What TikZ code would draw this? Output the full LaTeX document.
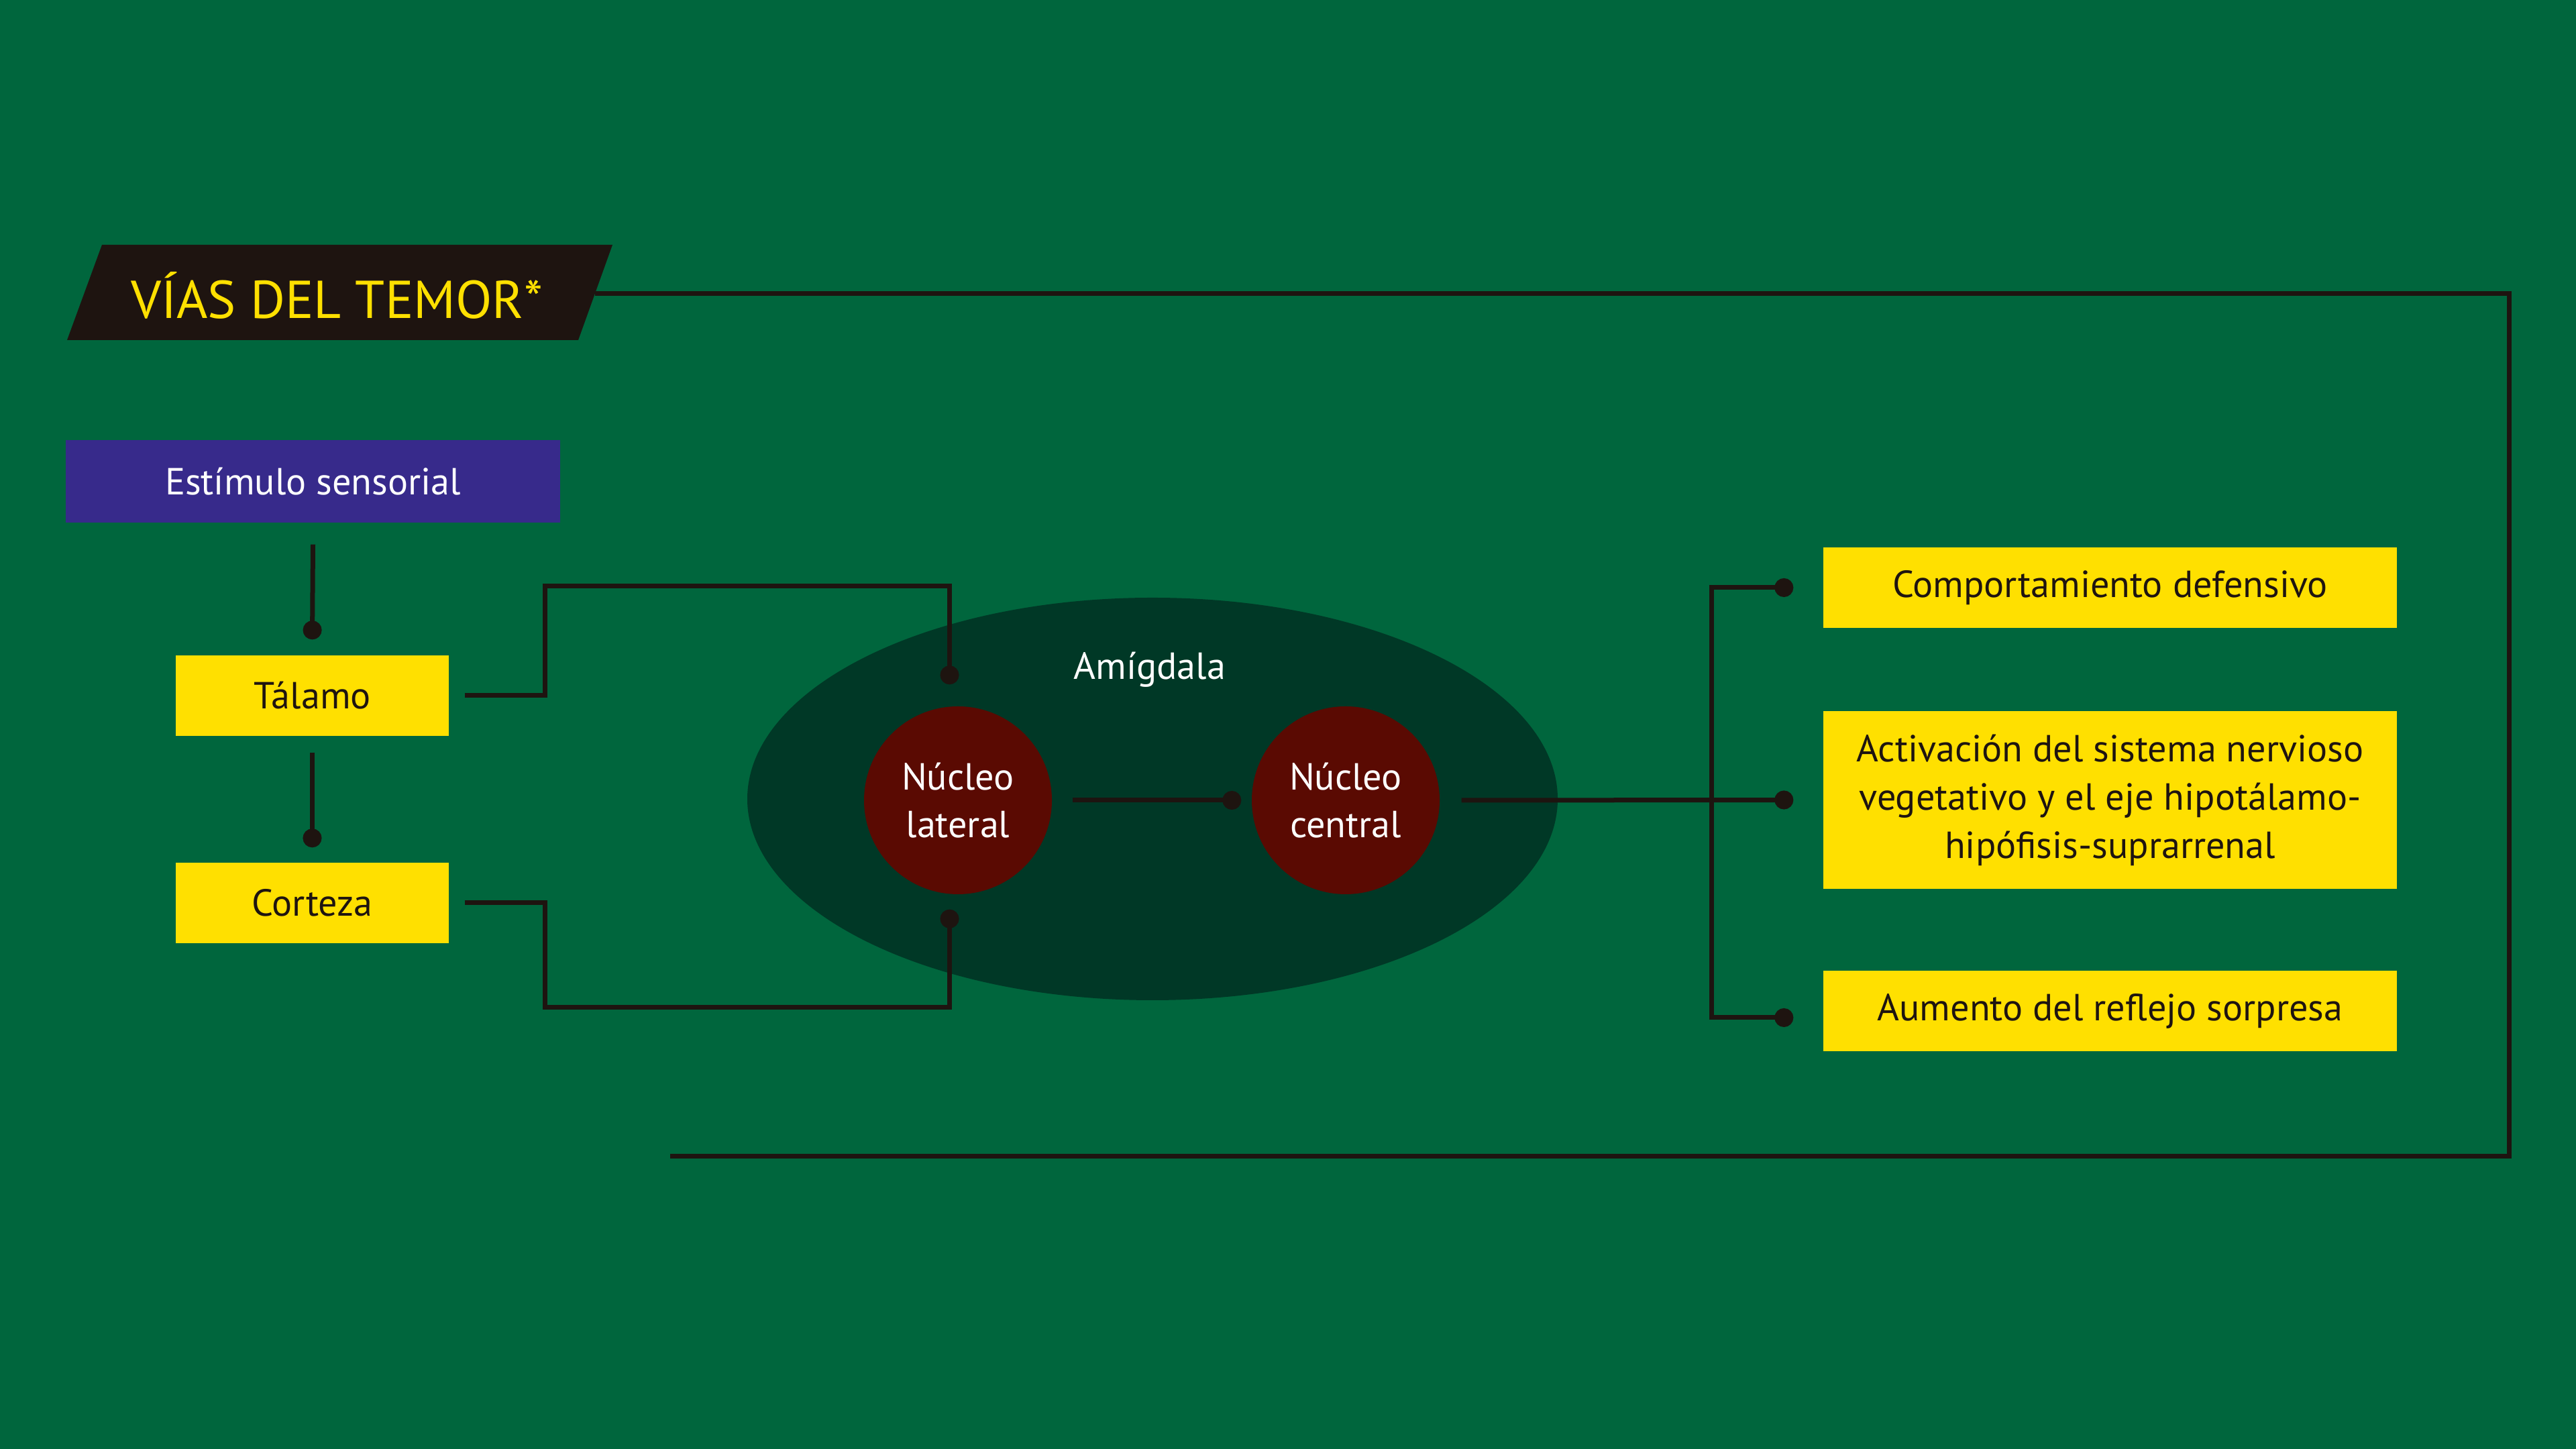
\documentclass[tikz,border=0pt]{standalone}
\usepackage{fontspec}
\setmainfont{PT Sans}
\usetikzlibrary{arrows.meta,shapes.geometric}
\definecolor{bg}{RGB}{0,102,61}
\definecolor{ylw}{RGB}{255,224,0}
\definecolor{purp}{RGB}{55,42,139}
\definecolor{ink}{RGB}{30,20,16}
\definecolor{amyg}{RGB}{0,56,38}
\definecolor{nuc}{RGB}{90,10,2}
\tikzset{
  ybox/.style={fill=ylw, text=ink, inner sep=0pt, align=center, font=\fontsize{16}{20.5}\selectfont},
  nucleus/.style={circle, fill=nuc, text=white, minimum size=2.8cm, inner sep=0pt, align=center, font=\fontsize{16}{20.3}\selectfont},
  con/.style={draw=ink, line width=0.07cm, line join=miter},
  dotend/.style={-{Circle[length=0.28cm]}},
  dotboth/.style={{Circle[length=0.28cm]}-{Circle[length=0.28cm]}}
}
\begin{document}
\begin{tikzpicture}[x=1cm,y=1cm]
\fill[bg] (0,0) rectangle (38.4,21.6);
\useasboundingbox (0,0) rectangle (38.4,21.6);

% title
\fill[ink] (1.52,17.95) -- (9.13,17.95) -- (8.62,16.53) -- (1.00,16.53) -- cycle;
\node[text=ylw, font=\fontsize{22.6}{27}\selectfont, inner sep=0pt] (title) at (5.02,17.20) {VÍAS DEL TEMOR*};
\coordinate (tstart) at (8.87,17.22);
\coordinate (tend) at (9.99,4.36);
\draw[con] (tstart) -- (37.40,17.22) -- (37.40,4.36) -- (tend);

% left column
\node[fill=purp, text=white, inner sep=0pt, minimum width=7.37cm, minimum height=1.23cm, font=\fontsize{16}{20.5}\selectfont] (stim) at (4.665,14.425) {Estímulo sensorial};
\node[ybox, minimum width=4.07cm, minimum height=1.20cm] (tal) at (4.655,11.23) {Tálamo};
\node[ybox, minimum width=4.07cm, minimum height=1.20cm] (cor) at (4.655,8.14) {Corteza};

% amygdala
\node[ellipse, fill=amyg, minimum width=12.08cm, minimum height=6.00cm, inner sep=0pt] (amy) at (17.18,9.69) {};
\node[text=white, font=\fontsize{16}{20}\selectfont, inner sep=0pt] (amylab) at (17.14,11.62) {Amígdala};
\node[nucleus] (lat) at (14.28,9.67) {Núcleo\\lateral};
\node[nucleus] (cen) at (20.06,9.67) {Núcleo\\central};

% right column
\node[ybox, minimum width=8.55cm, minimum height=1.20cm] (b1) at (31.455,12.84) {Comportamiento defensivo};
\node[ybox, minimum width=8.55cm, minimum height=2.65cm] (b2) at (31.455,9.675) {Activación del sistema nervioso\\vegetativo y el eje hipotálamo-\\hipófisis-suprarrenal};
\node[ybox, minimum width=8.55cm, minimum height=1.20cm] (b3) at (31.455,6.53) {Aumento del reflejo sorpresa};

% connectors
\draw[con, dotend] ([yshift=-0.32cm]stim.south) -- ([yshift=0.23cm]tal.north);
\draw[con, dotend] ([yshift=-0.24cm]tal.south) -- ([yshift=0.22cm]cor.north);
\draw[con, dotend] ([xshift=0.23cm]tal.east) -- ++(1.20,0) |- ([xshift=-0.125cm,yshift=1.79cm]lat.north) -- ([xshift=-0.125cm,yshift=0.32cm]lat.north);
\draw[con, dotend] ([xshift=0.23cm]cor.east) -- ++(1.20,0) |- ([xshift=-0.125cm,yshift=-1.68cm]lat.south) -- ([xshift=-0.125cm,yshift=-0.22cm]lat.south);
\draw[con, dotend] ([xshift=0.30cm]lat.east) -- ([xshift=-0.15cm]cen.west);
\draw[con, dotend] ([xshift=0.32cm]cen.east) -- ([xshift=-0.44cm]b2.west);
\draw[con, dotboth] ([xshift=-0.44cm]b1.west) -- ([xshift=-1.66cm]b1.west) |- ([xshift=-0.44cm,yshift=-0.10cm]b3.west);
\end{tikzpicture}
\end{document}
